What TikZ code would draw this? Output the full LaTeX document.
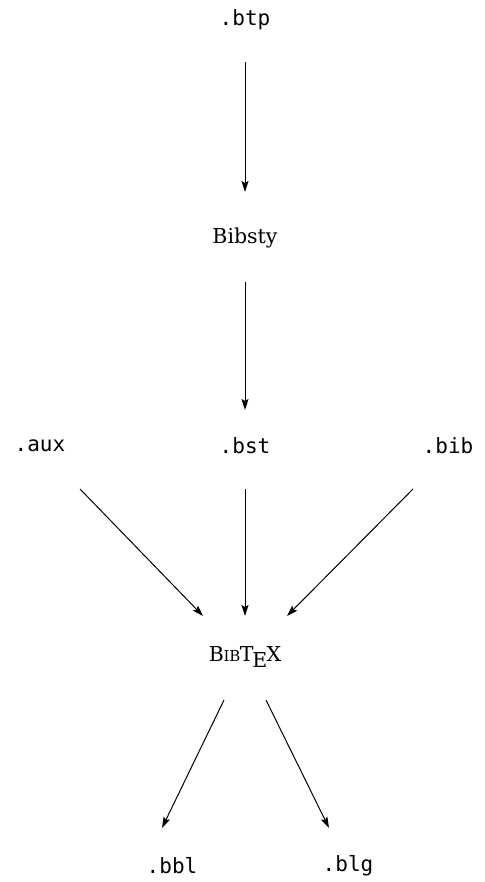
\documentclass[tikz,border=0pt]{standalone}
\usepackage{fontspec}
\setmainfont{DejaVu Serif}
\setmonofont{DejaVu Sans Mono}
\usetikzlibrary{arrows.meta,calc}
\newcommand{\btxlogo}{B\kern-.02em{\fontsize{15pt}{15pt}\selectfont I\kern-.01em B}\kern-.02em T\kern-.06em\lower.6ex\hbox{E}\kern-.04emX}
\begin{document}
\begin{tikzpicture}[x=1pt,y=-1pt,
  filebox/.style={font=\fontsize{21pt}{21pt}\selectfont\ttfamily, inner sep=0pt},
  progbox/.style={font=\fontsize{20.5pt}{20.5pt}\selectfont\rmfamily, inner sep=0pt},
  flow/.style={-{Stealth[length=11pt,width=7pt,inset=2pt]}, line width=1pt}]
\useasboundingbox (0,0) rectangle (484,882);
\node[filebox] (btp) at (245,20) {.btp};
\node[progbox] (bibsty) at (245,238) {Bibsty};
\node[filebox] (aux) at (40,446) {.aux};
\node[filebox] (bst) at (245,446) {.bst};
\node[filebox] (bib) at (448,446) {.bib};
\node[progbox] (bibtex) at (245,657) {\btxlogo};
\node[filebox] (bbl) at (172,866) {.bbl};
\node[filebox] (blg) at (348,866) {.blg};
% arrow end points attached to the nodes
\coordinate (aux-out) at ($(aux)+(40,43)$);
\coordinate (bib-out) at ($(bib)+(-35,43)$);
\coordinate (btx-w) at ($(bibtex)+(-42,-41)$);
\coordinate (btx-e) at ($(bibtex)+(42,-41)$);
\coordinate (btx-sw) at ($(bibtex)+(-21,43)$);
\coordinate (btx-se) at ($(bibtex)+(21,43)$);
\coordinate (bbl-in) at ($(bbl)+(-10,-38)$);
\coordinate (blg-in) at ($(blg)+(-19,-38)$);
\draw[flow, shorten <=42pt, shorten >=46pt] (btp.center) -- (bibsty.center);
\draw[flow, shorten <=44pt, shorten >=36pt] (bibsty.center) -- (bst.center);
\draw[flow, shorten <=43pt, shorten >=41pt] (bst.center) -- (bibtex.center);
\draw[flow] (aux-out) -- (btx-w);
\draw[flow] (bib-out) -- (btx-e);
\draw[flow] (btx-sw) -- (bbl-in);
\draw[flow] (btx-se) -- (blg-in);
\end{tikzpicture}
\end{document}
